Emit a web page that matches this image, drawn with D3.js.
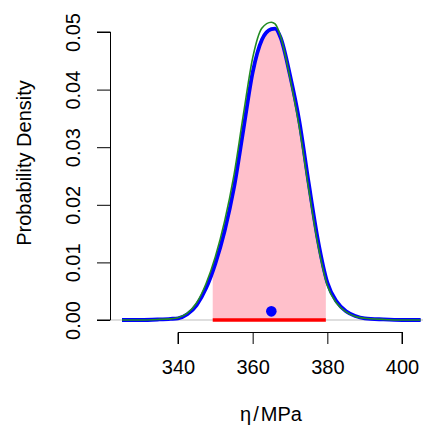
<!DOCTYPE html>
<html>
<head>
<meta charset="utf-8">
<script src="https://cdn.jsdelivr.net/npm/d3@7"></script>
<style>
  body { margin: 0; background: #fff; }
  svg { display: block; font-family: "Liberation Sans", Arial, sans-serif; }
</style>
</head>
<body>
<svg id="chart" width="423" height="426"></svg>
<script>
// values
const xGrid = [325, 330, 335, 338, 340, 342.5, 345, 347.5, 350, 352.5, 355, 357.5, 360, 362.5, 365, 366, 367.5, 370, 372.5, 375, 377.5, 380, 382.5, 385, 387.5, 390, 395, 400, 405];
const blueDensity = [0, 0, 0.0001, 0.0002, 0.0003, 0.0010, 0.0026, 0.0055, 0.0098, 0.0155, 0.0230, 0.0330, 0.0430, 0.0487, 0.0505, 0.0506, 0.0490, 0.0425, 0.0345, 0.0238, 0.0138, 0.0065, 0.0032, 0.0015, 0.0007, 0.0003, 0.0001, 0, 0];
const greenDensity = [0, 0, 0.0001, 0.0002, 0.0004, 0.0012, 0.0030, 0.0063, 0.0110, 0.0172, 0.0252, 0.0356, 0.0455, 0.0507, 0.0517, 0.0514, 0.0492, 0.0420, 0.0335, 0.0228, 0.0130, 0.0060, 0.0029, 0.0014, 0.0006, 0.0003, 0.0001, 0, 0];
const interval = [349.3, 379.6];
const pointEst = [365, 0.0015];
const xTicks = [340, 360, 380, 400];
const yTicks = [0, 0.01, 0.02, 0.03, 0.04, 0.05];

const svg = d3.select('#chart');

const x = d3.scaleLinear().domain([340, 400]).range([178, 402]);
const y = d3.scaleLinear().domain([0, 0.05]).range([320, 32]);

// plot region (R style, 4% extension)
const plotL = 110, plotR = 433, plotT = 11, plotB = 332;

const defs = svg.append('defs');
defs.append('clipPath').attr('id', 'plotclip')
  .append('rect').attr('x', plotL).attr('y', plotT)
  .attr('width', plotR - plotL).attr('height', plotB - plotT);
defs.append('clipPath').attr('id', 'ciclip')
  .append('rect').attr('x', x(interval[0])).attr('y', plotT)
  .attr('width', x(interval[1]) - x(interval[0])).attr('height', plotB - plotT);

const blue = xGrid.map((v, i) => [v, blueDensity[i]]);
const green = xGrid.map((v, i) => [v, greenDensity[i]]);

const plot = svg.append('g').attr('clip-path', 'url(#plotclip)');

// shaded interval under the curve
plot.append('g').attr('clip-path', 'url(#ciclip)')
  .append('path')
  .datum(blue)
  .attr('fill', 'pink')
  .attr('d', d3.area().x(d => x(d[0])).y0(y(0)).y1(d => y(d[1])).curve(d3.curveMonotoneX));

// zero line
plot.append('line')
  .attr('x1', plotL).attr('x2', plotR)
  .attr('y1', y(0)).attr('y2', y(0))
  .attr('stroke', 'lightgray').attr('stroke-width', 1.5);

const line = d3.line().x(d => x(d[0])).y(d => y(d[1])).curve(d3.curveMonotoneX);

plot.append('path').datum(blue)
  .attr('fill', 'none').attr('stroke', 'blue').attr('stroke-width', 3.8)
  .attr('stroke-linejoin', 'round').attr('d', line);

plot.append('path').datum(green)
  .attr('fill', 'none').attr('stroke', 'forestgreen').attr('stroke-width', 1.6)
  .attr('d', line);

// interval bar
plot.append('line')
  .attr('x1', x(interval[0])).attr('x2', x(interval[1]))
  .attr('y1', y(0)).attr('y2', y(0))
  .attr('stroke', 'red').attr('stroke-width', 3.5);

plot.append('circle')
  .attr('cx', x(pointEst[0])).attr('cy', y(pointEst[1]))
  .attr('r', 5.3).attr('fill', 'blue');

// x axis
const xAxis = svg.append('g').attr('transform', `translate(0,${plotB})`)
  .call(d3.axisBottom(x).tickValues(xTicks).tickSize(12).tickPadding(16).tickFormat(d3.format('d')));
xAxis.selectAll('text').attr('font-size', 20).attr('fill', '#000')
  .attr('font-family', '"Liberation Sans", Arial, sans-serif');
xAxis.selectAll('line, path').attr('stroke', '#000');
xAxis.select('.domain').attr('d', `M${x(340)},12V0.5H${x(400)}V12`);

// y axis
const yAxis = svg.append('g').attr('transform', `translate(${plotL},0)`)
  .call(d3.axisLeft(y).tickValues(yTicks).tickSize(13).tickFormat(d3.format('.2f')));
yAxis.selectAll('line, path').attr('stroke', '#000');
yAxis.select('.domain').attr('d', `M-13,${y(0)}H0.5V${y(0.05)}H-13`);
yAxis.selectAll('text')
  .attr('font-size', 20).attr('fill', '#000')
  .attr('font-family', '"Liberation Sans", Arial, sans-serif')
  .attr('text-anchor', 'middle')
  .attr('x', 0).attr('y', 0).attr('dy', null)
  .attr('transform', `translate(${80 - plotL},0) rotate(-90)`);

// titles
svg.append('text')
  .attr('transform', 'translate(31,163) rotate(-90)')
  .attr('text-anchor', 'middle').attr('font-size', 20)
  .text('Probability Density');

const xt = svg.append('text')
  .attr('x', 271).attr('y', 421)
  .attr('text-anchor', 'middle').attr('font-size', 20);
xt.append('tspan').text('η');
xt.append('tspan').attr('dx', 2).text('/');
xt.append('tspan').attr('dx', 2).text('MPa');
</script>
</body>
</html>
